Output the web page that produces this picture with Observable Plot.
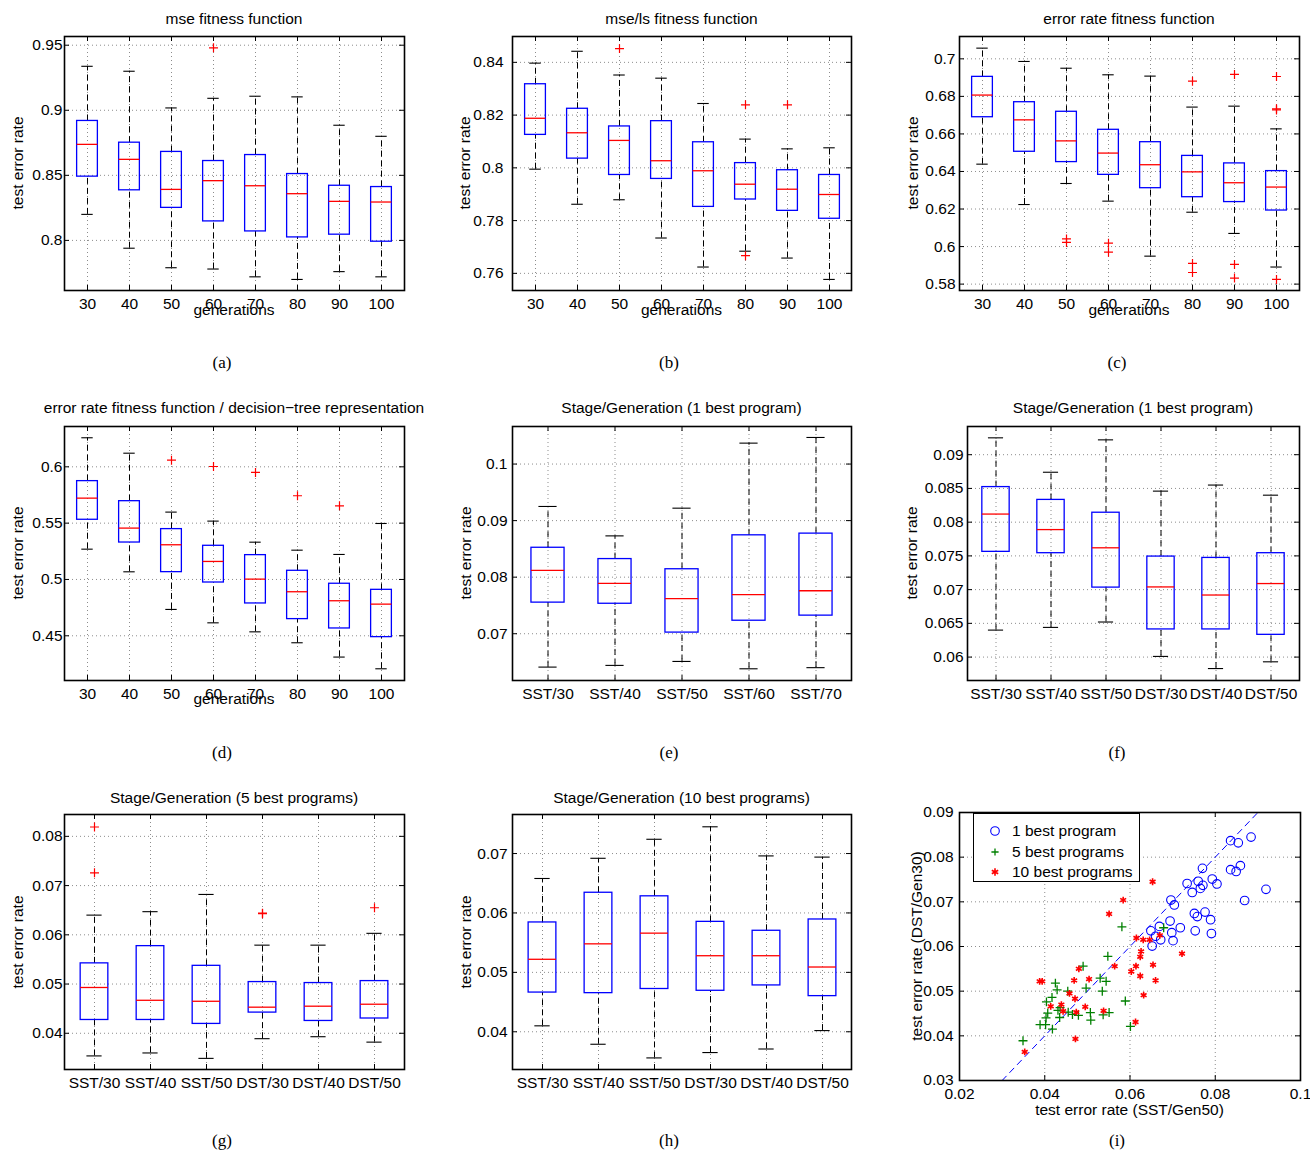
<!DOCTYPE html>
<html>
<head>
<meta charset="utf-8">
<script src="https://cdn.jsdelivr.net/npm/d3@7"></script>
<script src="https://cdn.jsdelivr.net/npm/@observablehq/plot@0.6"></script>
<style>
  html, body { margin: 0; padding: 0; background: #fff; }
  body { width: 1310px; height: 1151px; overflow: hidden; position: relative; }
  #root { position: absolute; left: 0; top: 0; width: 1310px; height: 1151px; overflow: hidden; }
  .lbl { position: absolute; white-space: nowrap; font-family: "Liberation Sans", Arial, Helvetica, sans-serif; font-size: 15.5px; color: #000; line-height: 1; }
  .cap { position: absolute; white-space: nowrap; font-family: "Liberation Serif", "Times New Roman", serif; font-size: 17px; color: #000; line-height: 1; transform: translate(-50%, -50%); }
  .legend { position: absolute; background: #fff; border: 1.3px solid #000; box-sizing: border-box; }
  .legrow { position: absolute; left: 0; display: flex; align-items: center; font-family: "Liberation Sans", Arial, sans-serif; font-size: 15.5px; white-space: nowrap; }
</style>
</head>
<body>
<div id="root"></div>
<script>
// ---------------- DATA ----------------
const gens = ["30", "40", "50", "60", "70", "80", "90", "100"];
const sst5 = ["SST/30", "SST/40", "SST/50", "SST/60", "SST/70"];
const sstDst = ["SST/30", "SST/40", "SST/50", "DST/30", "DST/40", "DST/50"];

// (a) mse fitness function
const aLo  = [0.820, 0.794, 0.779, 0.778, 0.772, 0.770, 0.776, 0.772];
const aQ1  = [0.849, 0.8385, 0.825, 0.8146, 0.8069, 0.8023, 0.8044, 0.799];
const aMed = [0.8738, 0.8623, 0.8392, 0.8459, 0.842, 0.8359, 0.830, 0.8295];
const aQ3  = [0.8918, 0.8751, 0.868, 0.861, 0.8656, 0.851, 0.842, 0.841];
const aHi  = [0.9338, 0.930, 0.9018, 0.9092, 0.9108, 0.9103, 0.8885, 0.880];
const aOut = [["60", 0.948]];
const aTicks = [0.8, 0.85, 0.9, 0.95];

// (b) mse/ls fitness function
const bLo  = [0.7995, 0.7862, 0.7879, 0.7734, 0.7624, 0.7684, 0.7658, 0.7577];
const bQ1  = [0.8125, 0.8035, 0.7973, 0.7958, 0.7852, 0.788, 0.7837, 0.7807];
const bMed = [0.8188, 0.8133, 0.8104, 0.8027, 0.7989, 0.7938, 0.7919, 0.7899];
const bQ3  = [0.8317, 0.8224, 0.8157, 0.8177, 0.8097, 0.8018, 0.7991, 0.7973];
const bHi  = [0.8397, 0.8442, 0.8352, 0.834, 0.8244, 0.8109, 0.8072, 0.8076];
const bOut = [["50", 0.8452], ["80", 0.8239], ["80", 0.7667], ["90", 0.8239]];
const bTicks = [0.76, 0.78, 0.8, 0.82, 0.84];

// (c) error rate fitness function
const cLo  = [0.6439, 0.6224, 0.6336, 0.6242, 0.5949, 0.6183, 0.607, 0.5891];
const cQ1  = [0.6689, 0.6505, 0.645, 0.6382, 0.6311, 0.6263, 0.6237, 0.6192];
const cMed = [0.6807, 0.6675, 0.6563, 0.6498, 0.6436, 0.6398, 0.634, 0.6317];
const cQ3  = [0.6904, 0.6769, 0.6718, 0.6622, 0.6556, 0.6483, 0.6443, 0.6402];
const cHi  = [0.7057, 0.6986, 0.695, 0.6915, 0.6908, 0.6743, 0.6748, 0.6627];
const cOut = [["50", 0.6041], ["50", 0.6022], ["60", 0.6018], ["60", 0.597],
              ["80", 0.6881], ["80", 0.591], ["80", 0.5862],
              ["90", 0.6917], ["90", 0.5905], ["90", 0.5832],
              ["100", 0.6906], ["100", 0.6734], ["100", 0.6728], ["100", 0.5825]];
const cTicks = [0.58, 0.6, 0.62, 0.64, 0.66, 0.68, 0.7];

// (d) error rate fitness function / decision-tree representation
const dLo  = [0.5269, 0.5068, 0.4734, 0.4615, 0.4535, 0.4438, 0.4311, 0.4207];
const dQ1  = [0.553, 0.5328, 0.5065, 0.4973, 0.4787, 0.4648, 0.4565, 0.4488];
const dMed = [0.5722, 0.5456, 0.5308, 0.516, 0.5003, 0.4891, 0.4811, 0.4781];
const dQ3  = [0.5873, 0.5695, 0.5447, 0.5299, 0.5216, 0.5077, 0.4962, 0.4908];
const dHi  = [0.6258, 0.6121, 0.5598, 0.5518, 0.5331, 0.526, 0.5222, 0.5497];
const dOut = [["50", 0.6059], ["60", 0.6003], ["70", 0.595], ["80", 0.5743], ["90", 0.5654]];
const dTicks = [0.45, 0.5, 0.55, 0.6];

// (e) Stage/Generation (1 best program), SST only
const eLo  = [0.0641, 0.0644, 0.0651, 0.0638, 0.064];
const eQ1  = [0.0755, 0.0753, 0.0702, 0.0723, 0.0732];
const eMed = [0.0812, 0.0789, 0.0762, 0.0769, 0.0776];
const eQ3  = [0.0852, 0.0832, 0.0814, 0.0874, 0.0877];
const eHi  = [0.0925, 0.0873, 0.0922, 0.1037, 0.1047];
const eTicks = [0.07, 0.08, 0.09, 0.1];

// (f) Stage/Generation (1 best program), SST and DST
const fLo  = [0.064, 0.0644, 0.0652, 0.0601, 0.0583, 0.0593];
const fQ1  = [0.0756, 0.0754, 0.0703, 0.0641, 0.0641, 0.0633];
const fMed = [0.0812, 0.0789, 0.0762, 0.0704, 0.0692, 0.0709];
const fQ3  = [0.0852, 0.0833, 0.0814, 0.0749, 0.0747, 0.0754];
const fHi  = [0.0925, 0.0874, 0.0922, 0.0846, 0.0855, 0.084];
const fTicks = [0.06, 0.065, 0.07, 0.075, 0.08, 0.085, 0.09];

// (g) Stage/Generation (5 best programs)
const gLo  = [0.0354, 0.036, 0.0349, 0.0389, 0.0393, 0.0382];
const gQ1  = [0.0427, 0.0427, 0.0419, 0.0442, 0.0425, 0.043];
const gMed = [0.0493, 0.0467, 0.0465, 0.0453, 0.0455, 0.0459];
const gQ3  = [0.0542, 0.0577, 0.0537, 0.0504, 0.0502, 0.0506];
const gHi  = [0.064, 0.0647, 0.0682, 0.0579, 0.0579, 0.0603];
const gOut = [["SST/30", 0.0819], ["SST/30", 0.0726], ["DST/30", 0.0644], ["DST/30", 0.0643], ["DST/50", 0.0655]];
const gTicks = [0.04, 0.05, 0.06, 0.07, 0.08];

// (h) Stage/Generation (10 best programs)
const hLo  = [0.041, 0.0379, 0.0356, 0.0365, 0.0371, 0.0402];
const hQ1  = [0.0466, 0.0465, 0.0472, 0.0469, 0.0478, 0.046];
const hMed = [0.0522, 0.0548, 0.0566, 0.0528, 0.0528, 0.0509];
const hQ3  = [0.0584, 0.0634, 0.0628, 0.0585, 0.057, 0.0589];
const hHi  = [0.0658, 0.0692, 0.0724, 0.0745, 0.0696, 0.0694];
const hTicks = [0.04, 0.05, 0.06, 0.07];

// (i) scatter: test error rate SST/Gen50 (x) vs DST/Gen30 (y)
const best1 = [[0.0836,0.0837],[0.0854,0.0832],[0.0884,0.0845],[0.0859,0.0781],[0.0836,0.0772],[0.0849,0.0768],
  [0.0770,0.0775],[0.0771,0.0737],[0.0760,0.0746],[0.0765,0.0730],[0.0746,0.0721],[0.0734,0.0741],
  [0.0793,0.0751],[0.0804,0.0740],[0.0919,0.0728],[0.0869,0.0703],[0.0696,0.0704],[0.0704,0.0693],
  [0.0776,0.0677],[0.0751,0.0674],[0.0758,0.0667],[0.0789,0.0660],[0.0753,0.0635],[0.0791,0.0629],
  [0.0694,0.0657],[0.0718,0.0642],[0.0669,0.0645],[0.0649,0.0635],[0.0698,0.0631],[0.0660,0.0623],
  [0.0672,0.0615],[0.0701,0.0613],[0.0652,0.0601]];
const best5 = [[0.0581,0.0644],[0.0679,0.0642],[0.0548,0.0578],[0.0490,0.0556],[0.0425,0.0518],[0.0429,0.0503],
  [0.0530,0.0529],[0.0544,0.0522],[0.0497,0.0507],[0.0535,0.0500],[0.0454,0.0500],[0.0417,0.0486],
  [0.0404,0.0476],[0.0589,0.0478],[0.0436,0.0463],[0.0431,0.0457],[0.0407,0.0451],[0.0455,0.0453],
  [0.0465,0.0448],[0.0479,0.0446],[0.0507,0.0452],[0.0537,0.0447],[0.0551,0.0452],[0.0403,0.0440],
  [0.0435,0.0441],[0.0508,0.0435],[0.0389,0.0425],[0.0402,0.0425],[0.0418,0.0415],[0.0601,0.0421],
  [0.0349,0.0389]];
const best10 = [[0.0653,0.0745],[0.0584,0.0704],[0.0551,0.0673],[0.0670,0.0625],[0.0615,0.0619],[0.0631,0.0615],
  [0.0646,0.0615],[0.0626,0.0589],[0.0624,0.0577],[0.0722,0.0584],[0.0654,0.0559],[0.0614,0.0556],
  [0.0564,0.0556],[0.0603,0.0544],[0.0624,0.0534],[0.0660,0.0524],[0.0632,0.0491],[0.0613,0.0431],
  [0.0480,0.0550],[0.0388,0.0522],[0.0394,0.0522],[0.0469,0.0524],[0.0504,0.0527],[0.0458,0.0495],
  [0.0471,0.0483],[0.0439,0.0470],[0.0414,0.0466],[0.0443,0.0455],[0.0474,0.0453],[0.0495,0.0465],
  [0.0538,0.0456],[0.0472,0.0393],[0.0353,0.0364]];
const refLine = [0.03, 0.09];
const iXTicks = [0.02, 0.04, 0.06, 0.08, 0.1];
const iYTicks = [0.03, 0.04, 0.05, 0.06, 0.07, 0.08, 0.09];

// ---------------- RENDERING ----------------
const root = document.getElementById("root");
const FONT = '"Liberation Sans", Arial, Helvetica, sans-serif';
const BLUE = "#0000ff", RED = "#ff0000", GREEN = "#008000";
const gridStyle = {stroke: "#000", strokeOpacity: 0.45, strokeDasharray: "1,3", strokeWidth: 1};
const numFmt = d => String(d);

function place(el, x, y) {
  el.style.position = "absolute";
  el.style.left = x + "px";
  el.style.top = y + "px";
  root.appendChild(el);
}
function text(str, x, y, rotate = false, cls = "lbl") {
  const d = document.createElement("div");
  d.className = cls;
  d.textContent = str;
  d.style.left = x + "px";
  d.style.top = y + "px";
  d.style.transform = "translate(-50%, -50%)" + (rotate ? " rotate(-90deg)" : "");
  root.appendChild(d);
}

const ML = 70, MT = 12, MR = 24, MB = 40;

function boxPanel({cats, lo, q1, med, q3, hi, out = [], domain, ticks, frame, pad}) {
  const [x0, y0, x1, y1] = frame;
  const fw = x1 - x0, fh = y1 - y0;
  const bw = fw / cats.length;
  const boxInset = bw * 0.25;
  const capInset = bw * 0.36;
  const rows = cats.map((c, i) => ({cat: c, lo: lo[i], q1: q1[i], med: med[i], q3: q3[i], hi: hi[i]}));
  const svg = Plot.plot({
    width: fw + ML + MR, height: fh + MT + MB,
    marginLeft: ML, marginTop: MT, marginRight: MR, marginBottom: MB,
    style: {background: "transparent", fontFamily: FONT, fontSize: "15.5px", color: "#000", overflow: "visible"},
    x: {type: "band", domain: cats, padding: 0},
    y: {domain},
    marks: [
      Plot.gridY(ticks, gridStyle),
      Plot.gridX(cats, gridStyle),
      // whiskers
      Plot.ruleX(rows, {x: "cat", y1: "q3", y2: "hi", stroke: "#000", strokeWidth: 1, strokeDasharray: "6,4"}),
      Plot.ruleX(rows, {x: "cat", y1: "lo", y2: "q1", stroke: "#000", strokeWidth: 1, strokeDasharray: "6,4"}),
      Plot.tickY(rows, {x: "cat", y: "hi", stroke: "#000", strokeWidth: 1.1, insetLeft: capInset, insetRight: capInset}),
      Plot.tickY(rows, {x: "cat", y: "lo", stroke: "#000", strokeWidth: 1.1, insetLeft: capInset, insetRight: capInset}),
      // boxes
      Plot.barY(rows, {x: "cat", y1: "q1", y2: "q3", fill: "none", stroke: BLUE, strokeWidth: 1.3, insetLeft: boxInset, insetRight: boxInset}),
      Plot.tickY(rows, {x: "cat", y: "med", stroke: RED, strokeWidth: 1.3, insetLeft: boxInset, insetRight: boxInset}),
      // outliers
      Plot.dot(out, {x: d => d[0], y: d => d[1], symbol: "plus", stroke: RED, r: 3, strokeWidth: 1.2}),
      // inward ticks
      Plot.ruleY(ticks, {insetRight: fw - 5, stroke: "#000"}),
      Plot.ruleY(ticks, {insetLeft: fw - 5, stroke: "#000"}),
      Plot.ruleX(cats, {insetTop: fh - 5, stroke: "#000"}),
      Plot.ruleX(cats, {insetBottom: fh - 5, stroke: "#000"}),
      Plot.frame({stroke: "#000", strokeWidth: 1.6}),
      Plot.axisY(ticks, {tickSize: 0, tickPadding: pad, label: null, fontSize: 15.5, tickFormat: numFmt}),
      Plot.axisX(cats, {tickSize: 0, tickPadding: 7, label: null, fontSize: 15.5})
    ]
  });
  place(svg, x0 - ML, y0 - MT);
}

function scatterPanel({frame, pad}) {
  const [x0, y0, x1, y1] = frame;
  const fw = x1 - x0, fh = y1 - y0;
  const svg = Plot.plot({
    width: fw + ML + MR, height: fh + MT + MB,
    marginLeft: ML, marginTop: MT, marginRight: MR, marginBottom: MB,
    style: {background: "transparent", fontFamily: FONT, fontSize: "15.5px", color: "#000", overflow: "visible"},
    x: {domain: [0.02, 0.1]},
    y: {domain: [0.03, 0.09]},
    marks: [
      Plot.gridX(iXTicks, gridStyle),
      Plot.gridY(iYTicks, gridStyle),
      Plot.line(refLine.map(v => [v, v]), {x: d => d[0], y: d => d[1], stroke: BLUE, strokeWidth: 1, strokeDasharray: "6,5"}),
      Plot.dot(best1, {x: d => d[0], y: d => d[1], symbol: "circle", fill: "none", stroke: BLUE, r: 4.3, strokeWidth: 1.1}),
      Plot.dot(best5, {x: d => d[0], y: d => d[1], symbol: "plus", stroke: GREEN, r: 3, strokeWidth: 1.3}),
      Plot.dot(best10, {x: d => d[0], y: d => d[1], symbol: "asterisk", stroke: RED, r: 3.2, strokeWidth: 1.6}),
      Plot.ruleY(iYTicks, {insetRight: fw - 5, stroke: "#000"}),
      Plot.ruleY(iYTicks, {insetLeft: fw - 5, stroke: "#000"}),
      Plot.ruleX(iXTicks, {insetTop: fh - 5, stroke: "#000"}),
      Plot.ruleX(iXTicks, {insetBottom: fh - 5, stroke: "#000"}),
      Plot.frame({stroke: "#000", strokeWidth: 1.6}),
      Plot.axisY(iYTicks, {tickSize: 0, tickPadding: pad, label: null, fontSize: 15.5, tickFormat: numFmt}),
      Plot.axisX(iXTicks, {tickSize: 0, tickPadding: 7, label: null, fontSize: 15.5, tickFormat: numFmt})
    ]
  });
  place(svg, x0 - ML, y0 - MT);
}

// frames: [left, top, right, bottom] in page pixels
const FA = [64, 36, 404, 290], FB = [512, 36, 851, 290], FC = [959, 36, 1299, 290];
const FD = [64, 426, 404, 680], FE = [512, 426, 851, 680], FF = [967, 426, 1299, 680];
const FG = [64, 814, 404, 1069], FH = [512, 814, 851, 1069], FI = [959, 812, 1300, 1080];

boxPanel({cats: gens, lo: aLo, q1: aQ1, med: aMed, q3: aQ3, hi: aHi, out: aOut, domain: [0.7615, 0.9567], ticks: aTicks, frame: FA, pad: 2});
boxPanel({cats: gens, lo: bLo, q1: bQ1, med: bMed, q3: bQ3, hi: bHi, out: bOut, domain: [0.7535, 0.8498], ticks: bTicks, frame: FB, pad: 9});
boxPanel({cats: gens, lo: cLo, q1: cQ1, med: cMed, q3: cQ3, hi: cHi, out: cOut, domain: [0.5766, 0.7119], ticks: cTicks, frame: FC, pad: 4});
boxPanel({cats: gens, lo: dLo, q1: dQ1, med: dMed, q3: dQ3, hi: dHi, out: dOut, domain: [0.4103, 0.6358], ticks: dTicks, frame: FD, pad: 2});
boxPanel({cats: sst5, lo: eLo, q1: eQ1, med: eMed, q3: eQ3, hi: eHi, domain: [0.06173, 0.10664], ticks: eTicks, frame: FE, pad: 5});
boxPanel({cats: sstDst, lo: fLo, q1: fQ1, med: fMed, q3: fQ3, hi: fHi, domain: [0.05653, 0.09418], ticks: fTicks, frame: FF, pad: 4});
boxPanel({cats: sstDst, lo: gLo, q1: gQ1, med: gMed, q3: gQ3, hi: gHi, out: gOut, domain: [0.03264, 0.08444], ticks: gTicks, frame: FG, pad: 2});
boxPanel({cats: sstDst, lo: hLo, q1: hQ1, med: hMed, q3: hQ3, hi: hHi, domain: [0.03365, 0.07657], ticks: hTicks, frame: FH, pad: 5});
scatterPanel({frame: FI, pad: 6});

// titles
const cx = f => (f[0] + f[2]) / 2;
const cy = f => (f[1] + f[3]) / 2;
text("mse fitness function", cx(FA), 19);
text("mse/ls fitness function", cx(FB), 19);
text("error rate fitness function", cx(FC), 19);
text("error rate fitness function / decision\u2212tree representation", cx(FD), 408);
text("Stage/Generation (1 best program)", cx(FE), 408);
text("Stage/Generation (1 best program)", cx(FF), 408);
text("Stage/Generation (5 best programs)", cx(FG), 798);
text("Stage/Generation (10 best programs)", cx(FH), 798);

// y-axis labels
text("test error rate", 18, cy(FA), true);
text("test error rate", 465, cy(FB), true);
text("test error rate", 913, cy(FC), true);
text("test error rate", 18, cy(FD), true);
text("test error rate", 466, cy(FE), true);
text("test error rate", 912, cy(FF), true);
text("test error rate", 18, cy(FG), true);
text("test error rate", 466, cy(FH), true);
text("test error rate (DST/Gen30)", 917, cy(FI), true);

// x-axis labels
text("generations", cx(FA), 310);
text("generations", cx(FB), 310);
text("generations", cx(FC), 310);
text("generations", cx(FD), 699);
text("test error rate (SST/Gen50)", cx(FI), 1110);

// captions
text("(a)", 222, 362, false, "cap");
text("(b)", 669, 362, false, "cap");
text("(c)", 1117, 362, false, "cap");
text("(d)", 222, 752, false, "cap");
text("(e)", 669, 752, false, "cap");
text("(f)", 1117, 752, false, "cap");
text("(g)", 222, 1140, false, "cap");
text("(h)", 669, 1140, false, "cap");
text("(i)", 1117, 1140, false, "cap");

// legend for (i)
const legendItems = [
  {label: "1 best program", sym: `<circle cx="8" cy="8" r="4.3" fill="none" stroke="${BLUE}" stroke-width="1.1"/>`},
  {label: "5 best programs", sym: `<path d="M4.4,8H11.6M8,4.4V11.6" stroke="${GREEN}" stroke-width="1.3"/>`},
  {label: "10 best programs", sym: `<path d="M8,4.3V11.7M4.8,6.2L11.2,9.8M4.8,9.8L11.2,6.2" stroke="${RED}" stroke-width="1.6"/>`}
];
const leg = document.createElement("div");
leg.className = "legend";
leg.style.left = "973px"; leg.style.top = "813px";
leg.style.width = "167px"; leg.style.height = "69px";
legendItems.forEach((it, i) => {
  const row = document.createElement("div");
  row.className = "legrow";
  row.style.top = (9 + i * 20.5) + "px";
  row.style.height = "16px";
  row.innerHTML = `<svg width="16" height="16" style="margin-left:13px;margin-right:9px">${it.sym}</svg><span>${it.label}</span>`;
  leg.appendChild(row);
});
root.appendChild(leg);
</script>
</body>
</html>
